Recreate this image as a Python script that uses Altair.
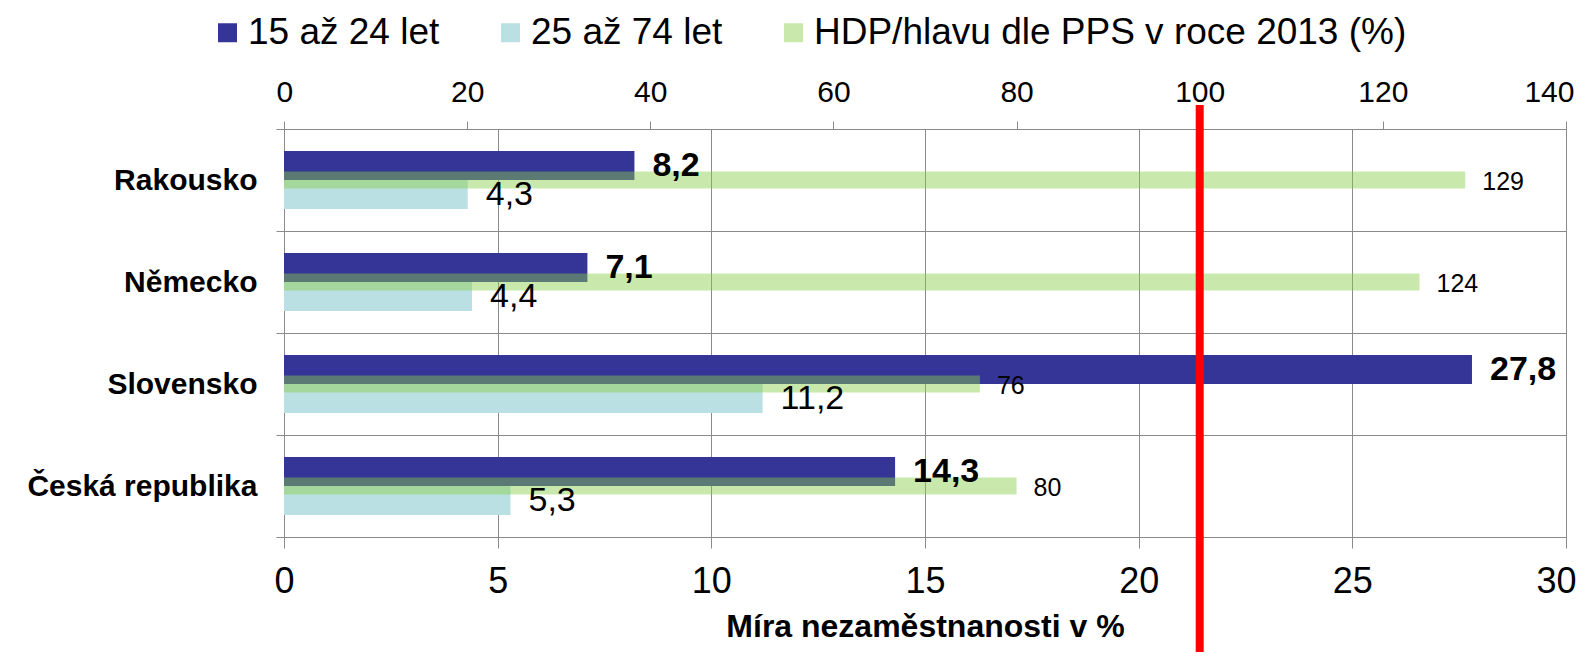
import altair as alt
import pandas as pd

countries = ["Rakousko", "Německo", "Slovensko", "Česká republika"]
youth = [8.2, 7.1, 27.8, 14.3]
adult = [4.3, 4.4, 11.2, 5.3]
gdp = [129, 124, 76, 80]
series = ["15 až 24 let", "25 až 74 let", "HDP/hlavu dle PPS v roce 2013 (%)"]
colors = ["#353598", "#BAE0E4", "#C9E8AB"]
bottom_ticks = [0, 5, 10, 15, 20, 25, 30]
top_ticks = [0, 20, 40, 60, 80, 100, 120, 140]
eu_level = 100

FONT = "Liberation Sans"
GRID = "#8A8A8A"

df = pd.DataFrame({"country": countries, "youth": youth, "adult": adult, "gdp": gdp})

base = alt.Chart(df).transform_calculate(
    youth_lbl="replace(format(datum.youth, '.1f'), '.', ',')",
    adult_lbl="replace(format(datum.adult, '.1f'), '.', ',')",
    gdp_lbl="format(datum.gdp, 'd')",
)

y_axis = alt.Axis(
    title=None, tickBand="extent", grid=True, gridColor=GRID, tickColor=GRID,
    tickSize=8, domain=False, labelFont=FONT, labelFontSize=30,
    labelFontWeight="bold", labelColor="black", labelPadding=19, labelLimit=400,
)
y_enc = alt.Y("country:N", sort=countries,
              scale=alt.Scale(paddingInner=0, paddingOuter=0), axis=y_axis)

x_scale = alt.Scale(domain=[0, 30], nice=False, zero=True)
top_scale = alt.Scale(domain=[0, 140], nice=False, zero=True)

x_axis = alt.Axis(
    orient="bottom", values=bottom_ticks, grid=True, gridColor=GRID,
    domainColor=GRID, tickColor=GRID, tickSize=11, labelFontSize=36,
    labelPadding=16, labelFont=FONT, labelColor="black", format="d",
    labelFlush=True, labelFlushOffset=10,
    title="Míra nezaměstnanosti v %", titleFont=FONT, titleFontSize=32,
    titleFontWeight="bold", titleColor="black", titlePadding=12,
)
top_axis = alt.Axis(
    orient="top", values=top_ticks, grid=False, domainColor=GRID,
    tickColor=GRID, tickSize=8, labelFontSize=30, labelPadding=14,
    labelFont=FONT, labelColor="black", title=None, format="d",
    labelFlush=True, labelFlushOffset=8,
)

color_scale = alt.Scale(domain=series, range=colors)
legend = alt.Legend(
    orient="none", legendX=-75, legendY=-115, direction="horizontal",
    title=None, labelFontSize=37, labelFont=FONT, labelColor="black",
    symbolType="square", symbolSize=361, symbolStrokeWidth=0,
    labelOffset=2, columnPadding=52, labelLimit=1000, padding=0,
)

blue_bar = base.transform_calculate(s=f"'{series[0]}'").mark_bar(
    size=29, yOffset=-14.5
).encode(
    x=alt.X("youth:Q", scale=x_scale, axis=x_axis),
    y=y_enc,
    color=alt.Color("s:N", scale=color_scale, legend=legend),
)
cyan_bar = base.transform_calculate(s=f"'{series[1]}'").mark_bar(
    size=29, yOffset=14.5
).encode(
    x=alt.X("adult:Q", scale=x_scale, axis=x_axis),
    y=y_enc,
    color=alt.Color("s:N", scale=color_scale, legend=legend),
)
bottom_bars = alt.layer(cyan_bar, blue_bar)

green_bar = base.mark_bar(size=17, color="#89CD48", opacity=0.46).encode(
    x=alt.X("gdp:Q", scale=top_scale, axis=top_axis),
    y=y_enc,
)

blue_txt = base.mark_text(
    align="left", baseline="middle", dx=18, yOffset=-14.5, fontSize=34,
    fontWeight="bold", font=FONT, color="black",
).encode(x=alt.X("youth:Q", scale=x_scale, axis=None), y=y_enc, text="youth_lbl:N")
cyan_txt = base.mark_text(
    align="left", baseline="middle", dx=18, yOffset=15, fontSize=34,
    font=FONT, color="black",
).encode(x=alt.X("adult:Q", scale=x_scale, axis=None), y=y_enc, text="adult_lbl:N")
bottom_txt = alt.layer(blue_txt, cyan_txt)

green_txt = base.mark_text(
    align="left", baseline="middle", dx=17, yOffset=2, fontSize=25,
    font=FONT, color="black",
).encode(x=alt.X("gdp:Q", scale=top_scale, axis=None), y=y_enc, text="gdp_lbl:N")
rule = alt.Chart(pd.DataFrame({"v": [eu_level]})).mark_rule(
    color="#FF0000", strokeWidth=8
).encode(
    x=alt.X("v:Q", scale=top_scale, axis=None),
    y=alt.value(-24), y2=alt.value(531),
)
top_txt = alt.layer(green_txt, rule)

chart = alt.layer(bottom_bars, green_bar, bottom_txt, top_txt).resolve_scale(
    x="independent"
).properties(
    width=1282, height=408,
    padding={"left": 276, "top": 121, "right": 19, "bottom": 115},
    autosize=alt.AutoSizeParams(type="none"),
).configure_view(stroke="transparent").configure(font=FONT, background="white")

chart.save("out.html", embed_options={"renderer": "svg", "actions": False})
